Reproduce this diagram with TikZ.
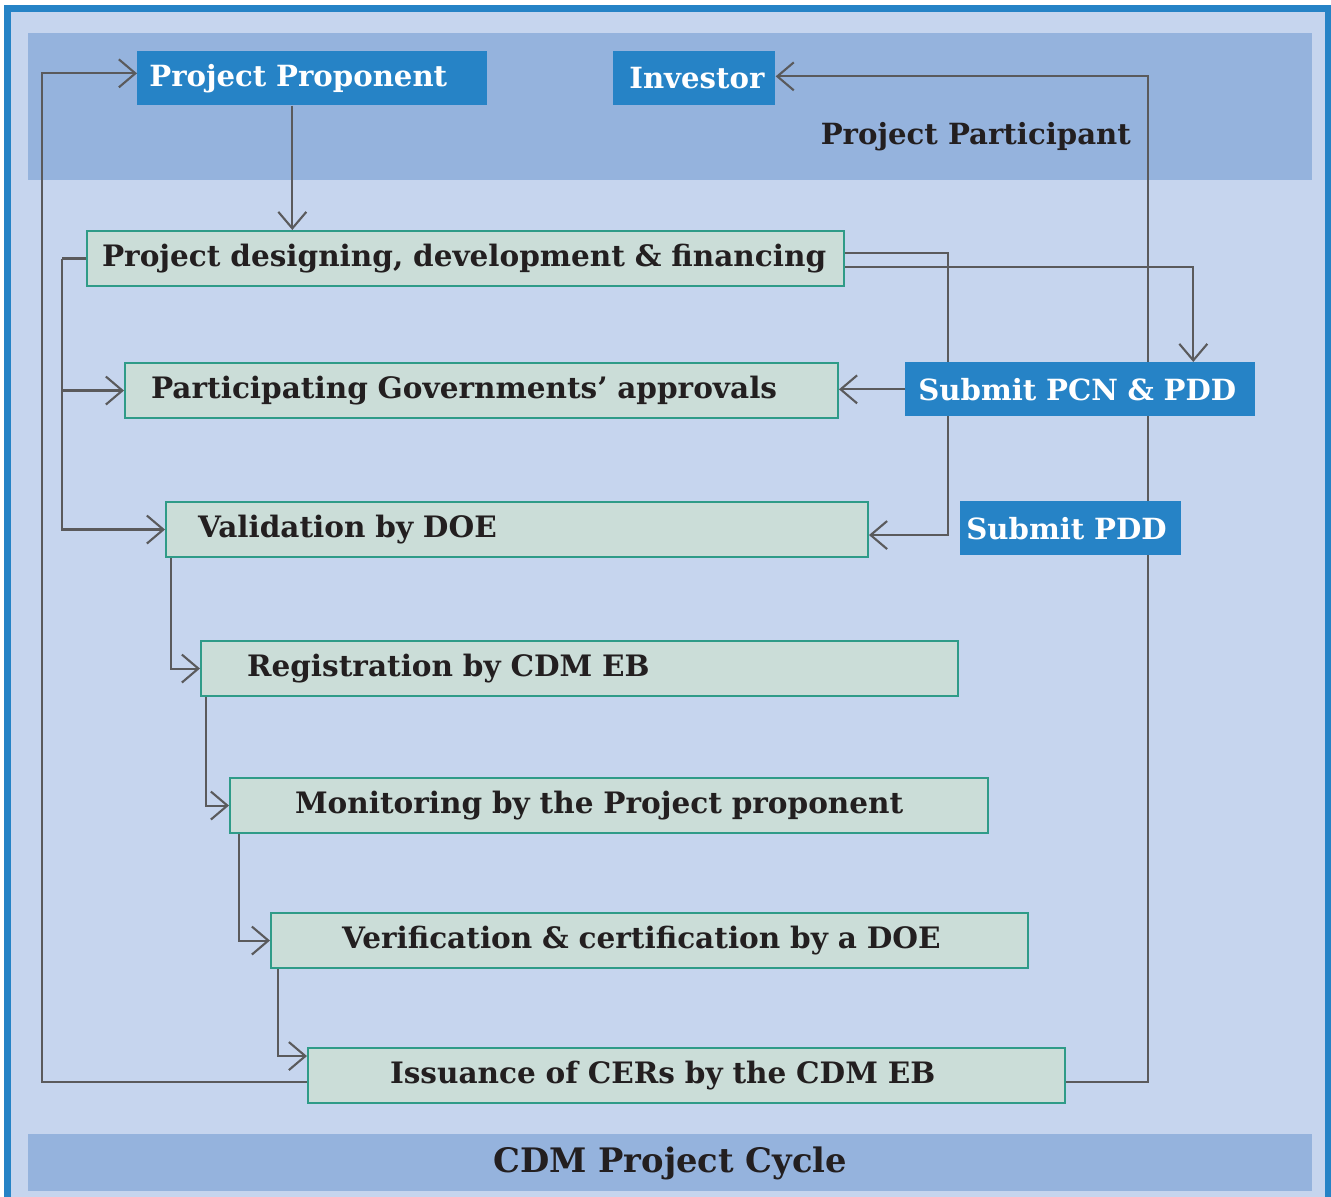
\documentclass[tikz,border=0pt]{standalone}
\usepackage{fontspec}
\setmainfont{DejaVu Serif}
\usetikzlibrary{arrows.meta}
\definecolor{frameblue}{HTML}{2683C6}
\definecolor{paleblue}{HTML}{C6D5EE}
\definecolor{bandblue}{HTML}{95B3DD}
\definecolor{stagefill}{HTML}{CBDDD8}
\definecolor{stageline}{HTML}{2F9B88}
\definecolor{wire}{HTML}{5A5A5C}
\definecolor{ink}{HTML}{231F20}
\pgfdeclarelayer{bands}
\pgfdeclarelayer{wires}
\pgfsetlayers{bands,wires,main}
\tikzset{
  stage/.style={draw=stageline, line width=1.2pt, fill=stagefill, anchor=north west,
    minimum height=1.1cm, inner ysep=0pt, align=left, text=ink,
    font=\bfseries\fontsize{16.8}{19}\selectfont},
  party/.style={fill=frameblue, anchor=north west, minimum height=1.08cm, inner ysep=0pt,
    align=left, text=white, font=\bfseries\fontsize{16.6}{19}\selectfont},
  flow/.style={draw=wire, line width=1.2pt, -{Straight Barb[length=0.33cm,width=0.56cm,line width=1.2pt]}},
  wirepath/.style={draw=wire, line width=1.2pt}
}
\begin{document}
\begin{tikzpicture}[x=0.02cm,y=-0.02cm]
				\useasboundingbox (0,0) rectangle (1331,1196);

				\node[party, minimum width=7cm, text width=6.52cm, inner xsep=0.24cm] (pp) at (137,51) {Project Proponent};
				\node[party, minimum width=3.24cm, text width=2.6cm, inner xsep=0.32cm] (inv) at (613,51) {Investor};
				\node[anchor=east, text=ink, font=\bfseries\fontsize{16.6}{19}\selectfont] (part) at (1137,137) {Project Participant};

				\node[stage, minimum width=15.14cm, text width=14.54cm, inner xsep=0.3cm] (design) at (86,230) {Project designing, development \& financing};
				\node[stage, minimum width=14.26cm, text width=13.22cm, inner xsep=0.52cm] (govt) at (124,362) {Participating Governments’ approvals};
				\node[stage, minimum width=14.04cm, text width=12.76cm, inner xsep=0.64cm] (valid) at (165,501) {Validation by DOE};
				\node[stage, minimum width=15.14cm, text width=13.3cm, inner xsep=0.92cm] (regist) at (200,640) {Registration by CDM EB};
				\node[stage, minimum width=15.16cm, text width=12.56cm, inner xsep=1.3cm] (monit) at (229,777) {Monitoring by the Project proponent};
				\node[stage, minimum width=15.14cm, text width=12.3cm, inner xsep=1.42cm] (verif) at (270,912) {Verification \& certification by a DOE};
				\node[stage, minimum width=15.14cm, text width=11.86cm, inner xsep=1.64cm] (issue) at (307,1047) {Issuance of CERs by the CDM EB};

				\node[party, minimum width=7cm, text width=6.48cm, inner xsep=0.26cm] (pcn) at (905,362) {Submit PCN \& PDD};
				\node[party, minimum width=4.42cm, text width=4.18cm, inner xsep=0.12cm] (pdd) at (960,501) {Submit PDD};

				\node[text=ink, font=\bfseries\fontsize{19.2}{23}\selectfont] (title) at (670,1163) {CDM Project Cycle};

				\begin{pgfonlayer}{bands}
				\fill[white] (0,0) rectangle (1331,1196);
				\draw[frameblue, line width=4.5pt, fill=paleblue] (7.5,8.5) rectangle (1329,1205);
				\fill[bandblue] (28,33) rectangle (1312,180);
				\fill[bandblue] (28,1134) rectangle (1312,1191);
				\end{pgfonlayer}

				\begin{pgfonlayer}{wires}
				\draw[flow] ([xshift=-0.4cm]pp.south) coordinate (ppout) -- (ppout |- design.north);
				\draw[flow] ([yshift=-0.13cm]issue.west) -- ++(-265,0) |- ([yshift=0.1cm]pp.west);
				\draw[wirepath] (design.west) -- ++(-24,0) coordinate (dleft);
				\draw[flow] (dleft) |- (govt.west);
				\draw[flow] (dleft) |- (valid.west);
				\draw[flow] ([yshift=0.11cm]design.east) -- ++(103,0) |- ([yshift=-0.11cm]valid.east);
				\draw[flow] ([yshift=-0.17cm]design.east) -| ([xshift=2.26cm]pcn.north);
				\draw[flow] (pcn.west) -- (pcn.west -| govt.east);
				\draw[flow] ([yshift=-0.13cm]issue.east) -- ++(82,0) |- ([yshift=0.04cm]inv.east);
				\draw[flow] ([xshift=0.12cm]valid.south west) |- (regist.west);
				\draw[flow] ([xshift=0.12cm]regist.south west) |- (monit.west);
				\draw[flow] ([xshift=0.2cm]monit.south west) |- (verif.west);
				\draw[flow] ([xshift=0.16cm]verif.south west) |- ([yshift=0.39cm]issue.west);
				\end{pgfonlayer}
			\end{tikzpicture}
\end{document}
